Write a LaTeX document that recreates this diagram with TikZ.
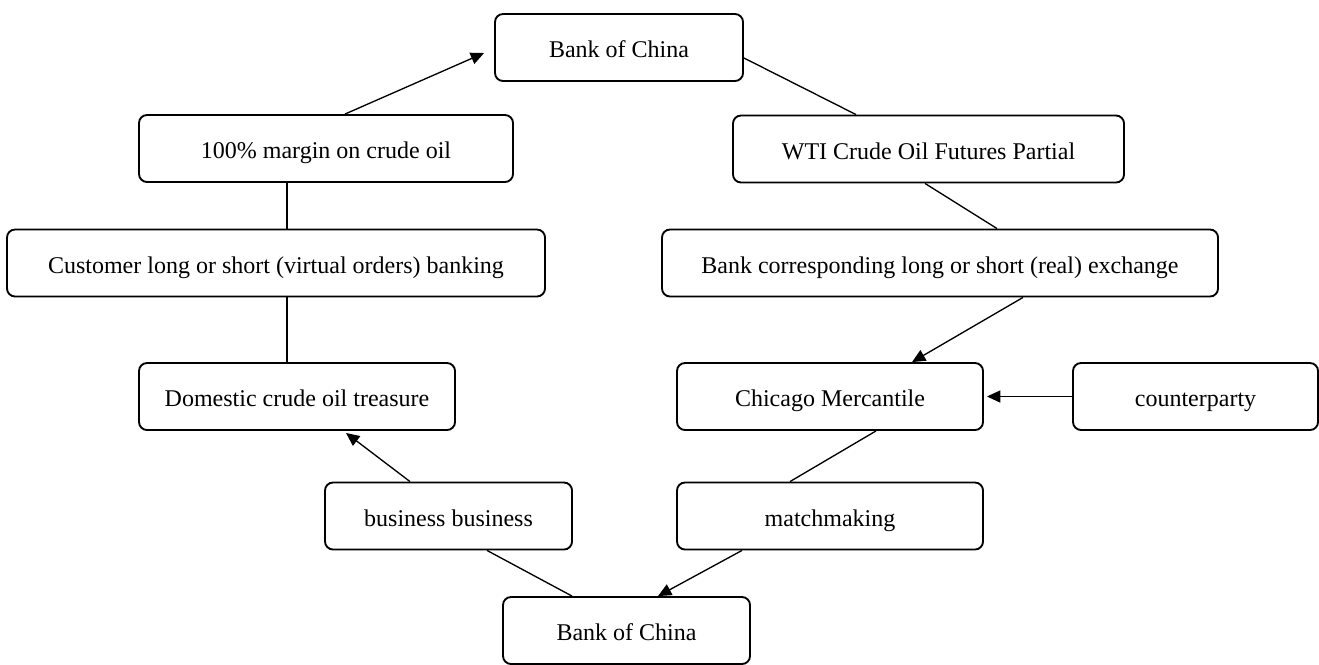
\documentclass[tikz,border=0pt]{standalone}
\usepackage{fontspec}
\setmainfont{Liberation Serif}
\usetikzlibrary{arrows.meta,positioning}

\begin{document}
\begin{tikzpicture}[x=0.75pt,y=-0.75pt,line width=1pt,
  every node/.style={font=\fontsize{18}{22}\selectfont}]
    \tikzstyle{box}=[draw, rounded corners=6pt, line width=1.4pt, minimum height=50.25pt,
                     inner sep=0pt, text height=15pt, text depth=0pt]
    \tikzstyle{arr}=[-{Triangle[length=10pt,width=9pt]}]
    \useasboundingbox (0,0) rectangle (1319,664);

    % left side
    \node[box, minimum width=186pt]   (top)    at (619,47.5)   {Bank of China};
    \node[box, minimum width=280.5pt] (margin) at (326,148.5)  {100\% margin on crude oil};
    \node[box, minimum width=403.5pt] (cust)   at (276,263)    {Customer long or short (virtual orders) banking};
    \node[box, minimum width=237pt]   (dom)    at (297,396.5)  {Domestic crude oil treasure};
    \node[box, minimum width=185.25pt](biz)    at (448.5,516)  {business business};
    \node[box, minimum width=185.25pt](bottom) at (626.5,630.5){Bank of China};

    % right side
    \node[box, minimum width=293.25pt](wti)    at (928.5,149)  {WTI Crude Oil Futures Partial};
    \node[box, minimum width=417pt]   (bank)   at (940,263)    {Bank corresponding long or short (real) exchange};
    \node[box, minimum width=229.5pt] (cme)    at (830,396.5)  {Chicago Mercantile};
    \node[box, minimum width=183.75pt](cpty)   at (1195.5,396.5){counterparty};
    \node[box, minimum width=229.5pt] (match)  at (830,516)    {matchmaking};

    \draw[arr] ([shift={(19,0)}]margin.north) -- ([shift={(-10,5.5)}]top.west);
    \draw ([shift={(-39,0)}]margin.south) -- ([shift={(11,0)}]cust.north);
    \draw ([shift={(11,0)}]cust.south) -- ([shift={(-10,0)}]dom.north);
    \draw[arr] ([shift={(-38.5,0)}]biz.north) -- ([shift={(49,2)}]dom.south);
    \draw ([shift={(38.5,0)}]biz.south) -- ([shift={(-54.5,0)}]bottom.north);

    \draw ([shift={(0,10.5)}]top.east) -- ([shift={(-72.5,0)}]wti.north);
    \draw ([shift={(-3.5,0)}]wti.south) -- ([shift={(57,0)}]bank.north);
    \draw[arr] ([shift={(83,0)}]bank.south) -- ([shift={(82,0)}]cme.north);
    \draw[arr] (cpty.west) -- ([shift={(3,0)}]cme.east);
    \draw ([shift={(46,0)}]cme.south) -- ([shift={(-40,0)}]match.north);
    \draw[arr] ([shift={(-88,0)}]match.south) -- ([shift={(31.5,0)}]bottom.north);

\end{tikzpicture}
\end{document}
